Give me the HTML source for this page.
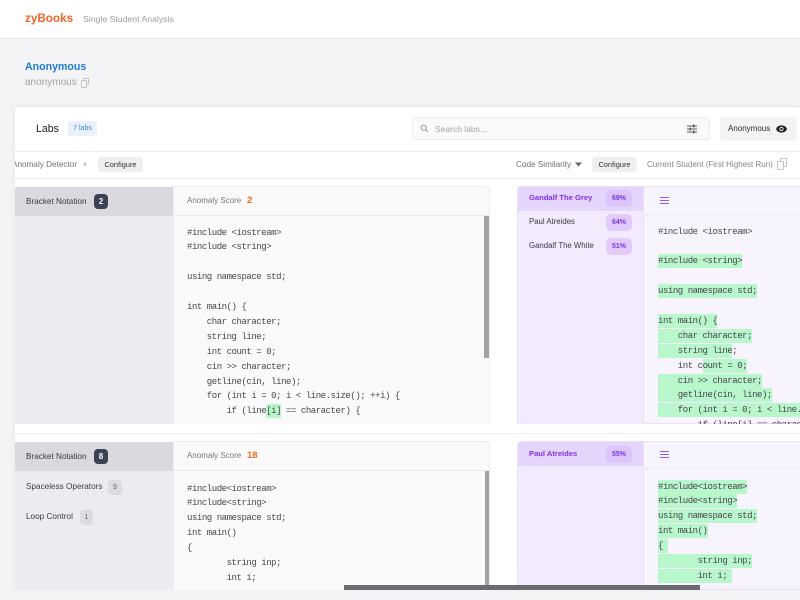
<!DOCTYPE html>
<html><head><meta charset="utf-8">
<style>
*{margin:0;padding:0;box-sizing:border-box}
body{width:800px;height:600px;overflow:hidden;background:#f4f4f6;font-family:"Liberation Sans",Arial,sans-serif;position:relative}
.a{position:absolute;white-space:nowrap}
pre{font-family:"Liberation Mono",monospace;font-size:9px;letter-spacing:-0.45px;line-height:14.9px;color:#45454d;position:absolute;margin:0}
.h{background:#b8f6cb;padding:2px 0}
.t{font-size:8.2px;color:#3a3a42;line-height:12px}
.bd{position:absolute;border-radius:4px;text-align:center;font-weight:bold}
.pb{position:absolute;left:606px;width:26px;height:17px;border-radius:5px;background:#e0cbfb;color:#7a35e6;font-size:7px;font-weight:bold;line-height:17px;text-align:center}
.btn{position:absolute;height:15px;border-radius:3px;background:#efeff1;color:#333;font-size:7.4px;line-height:15px;text-align:center}
</style></head><body>

<!-- header -->
<div class="a" style="left:0;top:0;width:800px;height:39px;background:#fff;border-bottom:1px solid #e6e6ea"></div>
<div class="a" style="left:25px;top:12px;font-size:11.7px;font-weight:bold;color:#f0642a;line-height:14px">zyBooks</div>
<div class="a" style="left:83px;top:13px;font-size:8.7px;color:#9c9ca2;line-height:12px">Single Student Analysis</div>

<!-- student -->
<div class="a" style="left:25px;top:60px;font-size:10.6px;font-weight:bold;color:#1f7ad5;line-height:14px">Anonymous</div>
<div class="a" style="left:25px;top:77px;font-size:10px;color:#a2a2a8;line-height:12px">anonymous</div>
<div class="a" style="left:83px;top:78px;width:6px;height:7px;border:1px solid #c4c4c8;border-radius:1px"></div>
<div class="a" style="left:81px;top:80px;width:6px;height:8px;border:1px solid #c4c4c8;border-radius:1px;background:#f4f4f6"></div>

<!-- panel -->
<div class="a" style="left:15px;top:106px;width:785px;height:484px;background:#fff;border-top:1px solid #e8e8ec;box-shadow:-2px 0 4px rgba(0,0,0,0.03)"></div>
<div class="a" style="left:36px;top:122px;font-size:10.6px;color:#222;line-height:14px">Labs</div>
<div class="a" style="left:68px;top:121px;width:29px;height:15px;background:#e9f1fb;border-radius:3px;color:#3a86d6;font-size:7px;line-height:15px;text-align:center">7 labs</div>

<!-- search -->
<div class="a" style="left:412px;top:117px;width:298px;height:23px;background:#fafafa;border:1px solid #ececee;border-radius:4px"></div>
<svg class="a" style="left:420px;top:124px" width="9" height="9" viewBox="0 0 9 9"><circle cx="3.7" cy="3.7" r="2.6" fill="none" stroke="#9a9aa0" stroke-width="1"/><line x1="5.6" y1="5.6" x2="8" y2="8" stroke="#9a9aa0" stroke-width="1"/></svg>
<div class="a" style="left:435px;top:123px;font-size:8.5px;color:#a4a4aa;line-height:12px">Search labs...</div>
<svg class="a" style="left:687px;top:124px" width="10" height="10" viewBox="0 0 10 10"><g stroke="#555" stroke-width="1"><line x1="0" y1="2" x2="10" y2="2"/><line x1="0" y1="5" x2="10" y2="5"/><line x1="0" y1="8" x2="10" y2="8"/></g><g fill="#555"><rect x="6" y="0.5" width="1.4" height="3"/><rect x="2.5" y="3.5" width="1.4" height="3"/><rect x="6" y="6.5" width="1.4" height="3"/></g></svg>
<div class="a" style="left:720px;top:117px;width:77px;height:24px;background:#f3f3f5;border-radius:4px"></div>
<div class="a" style="left:728px;top:123px;font-size:8px;color:#2a2a30;line-height:12px">Anonymous</div>
<svg class="a" style="left:776px;top:125px" width="11" height="8" viewBox="0 0 11 8"><ellipse cx="5.5" cy="4" rx="5.3" ry="3.6" fill="#222"/><circle cx="5.5" cy="4" r="2.1" fill="#f3f3f5"/><circle cx="5.5" cy="4" r="1.2" fill="#222"/></svg>

<div class="a" style="left:15px;top:151px;width:785px;height:1px;background:#eeeef1"></div>
<div class="a" style="left:15px;top:178px;width:785px;height:1px;background:#eeeef1"></div>

<!-- controls -->
<div class="a" style="left:15px;top:155px;width:300px;height:20px;overflow:hidden">
  <div class="a" style="left:-3px;top:4px;font-size:8.2px;color:#707078;line-height:12px">Anomaly Detector</div>
  <div class="a" style="left:68px;top:4px;font-size:8px;color:#c2c2c6;line-height:12px">▾</div>
</div>
<div class="btn" style="left:98px;top:157px;width:45px">Configure</div>
<div class="a" style="left:516px;top:159px;font-size:8.2px;color:#707078;line-height:12px">Code Similarity</div>
<svg class="a" style="left:575px;top:162px" width="7" height="5" viewBox="0 0 7 5"><path d="M0 0.5 L7 0.5 L3.5 4.5 Z" fill="#666"/></svg>
<div class="btn" style="left:592px;top:157px;width:45px">Configure</div>
<div class="a" style="left:647px;top:159px;font-size:8px;color:#85858c;line-height:12px">Current Student (First Highest Run)</div>
<div class="a" style="left:780px;top:158px;width:7px;height:9px;border:1px solid #c4c4c8;border-radius:1px"></div>
<div class="a" style="left:777px;top:161px;width:7px;height:9px;border:1px solid #c4c4c8;border-radius:1px;background:#fff"></div>

<!-- CARD 1 left -->
<div class="a" style="left:15px;top:187px;width:158px;height:237px;background:#ececf0"></div>
<div class="a" style="left:15px;top:187px;width:158px;height:29px;background:#dadade"></div>
<div class="a t" style="left:26px;top:195.5px">Bracket Notation</div>
<div class="bd" style="left:94px;top:194px;width:14px;height:15px;background:#3b4254;color:#fff;font-size:8px;line-height:15px">2</div>
<div class="a" style="left:173px;top:186px;width:317px;height:238px;background:#fafafb;border:1px solid #ececf0;border-bottom:none;border-radius:0 4px 0 0"></div>
<div class="a" style="left:173px;top:215px;width:316px;height:1px;background:#ececf0"></div>
<div class="a" style="left:187px;top:195px;font-size:8px;color:#76767e;line-height:12px">Anomaly Score</div>
<div class="a" style="left:247px;top:194px;font-size:9.5px;font-weight:bold;color:#f26a1b;line-height:13px">2</div>
<div class="a" style="left:174px;top:216px;width:310px;height:208px;overflow:hidden">
<pre style="left:13px;top:9.5px">#include &lt;iostream&gt;
#include &lt;string&gt;

using namespace std;

int main() {
    char character;
    string line;
    int count = 0;
    cin &gt;&gt; character;
    getline(cin, line);
    for (int i = 0; i &lt; line.size(); ++i) {
        if (line<span class="h">[i]</span> == character) {</pre>
</div>
<div class="a" style="left:484px;top:216px;width:5px;height:142px;background:#a3a3a6"></div>

<!-- CARD 1 right (purple) -->
<div class="a" style="left:517px;top:186px;width:290px;height:238px;background:#f8f4fd;border:1px solid #e9dff9;border-radius:6px 0 0 0"></div>
<div class="a" style="left:518px;top:187px;width:126px;height:237px;background:#f3eafd"></div>
<div class="a" style="left:518px;top:187px;width:126px;height:24px;background:#e5d4fb"></div>
<div class="a" style="left:643px;top:187px;width:1px;height:237px;background:#eae0f8"></div>
<div class="a" style="left:644px;top:214px;width:156px;height:1px;background:#ede5f8"></div>
<div class="a t" style="left:529px;top:192px;color:#7a35e6;font-weight:bold;font-size:7.6px">Gandalf The Grey</div>
<div class="a t" style="left:529px;top:216px;font-size:7.8px">Paul Atreides</div>
<div class="a t" style="left:529px;top:240px;font-size:7.8px">Gandalf The White</div>
<div class="pb" style="top:190px;background:#dcc5fa">69%</div>
<div class="pb" style="top:214px">64%</div>
<div class="pb" style="top:238px">51%</div>
<div class="a" style="left:660px;top:197px;width:9px;height:1.3px;background:#8a5cf0"></div>
<div class="a" style="left:660px;top:200px;width:9px;height:1.3px;background:#8a5cf0"></div>
<div class="a" style="left:660px;top:203px;width:9px;height:1.3px;background:#8a5cf0"></div>
<div class="a" style="left:644px;top:215px;width:156px;height:209px;overflow:hidden">
<pre style="left:14px;top:9.5px">#include &lt;iostream&gt;

<span class="h">#include &lt;string&gt;</span>

<span class="h">using namespace std;</span>

<span class="h">int main() {</span>
<span class="h">    char character;</span>
<span class="h">    string line</span>;
    int c<span class="h">ount = 0;</span>
<span class="h">    cin &gt;&gt; character;</span>
<span class="h">    getline(cin, line);</span>
<span class="h">    for (int i = 0; i &lt; line.size(); ++i) {</span>
        if (line[i] == character) {</pre>
</div>

<!-- separator between cards -->
<div class="a" style="left:15px;top:433px;width:785px;height:1px;background:#f0f0f3"></div>

<!-- CARD 2 left -->
<div class="a" style="left:15px;top:442px;width:158px;height:148px;background:#ececf0"></div>
<div class="a" style="left:15px;top:442px;width:158px;height:29px;background:#dadade"></div>
<div class="a t" style="left:26px;top:450.5px">Bracket Notation</div>
<div class="bd" style="left:94px;top:449px;width:14px;height:15px;background:#3b4254;color:#fff;font-size:8px;line-height:15px">8</div>
<div class="a t" style="left:26px;top:481px">Spaceless Operators</div>
<div class="bd" style="left:108px;top:480px;width:14px;height:15px;background:#dcdce0;color:#666;font-size:7px;line-height:15px;font-weight:normal">9</div>
<div class="a t" style="left:26px;top:511px">Loop Control</div>
<div class="bd" style="left:80px;top:510px;width:13px;height:15px;background:#dcdce0;color:#666;font-size:7px;line-height:15px;font-weight:normal">1</div>
<div class="a" style="left:173px;top:441px;width:317px;height:149px;background:#fafafb;border:1px solid #ececf0;border-bottom:none;border-radius:0 4px 0 0"></div>
<div class="a" style="left:173px;top:470px;width:316px;height:1px;background:#ececf0"></div>
<div class="a" style="left:187px;top:450px;font-size:8px;color:#76767e;line-height:12px">Anomaly Score</div>
<div class="a" style="left:247px;top:449px;font-size:9.5px;font-weight:bold;color:#f26a1b;line-height:13px">18</div>
<div class="a" style="left:174px;top:471px;width:310px;height:114px;overflow:hidden">
<pre style="left:13px;top:10.5px">#include&lt;iostream&gt;
#include&lt;string&gt;
using namespace std;
int main()
{
        string inp;
        int i;</pre>
</div>
<div class="a" style="left:485px;top:471px;width:4px;height:114px;background:#a3a3a6"></div>

<!-- CARD 2 right (purple) -->
<div class="a" style="left:517px;top:441px;width:290px;height:149px;background:#f8f4fd;border:1px solid #e9dff9;border-radius:6px 0 0 0"></div>
<div class="a" style="left:518px;top:442px;width:126px;height:148px;background:#f3eafd"></div>
<div class="a" style="left:518px;top:442px;width:126px;height:24px;background:#e5d4fb"></div>
<div class="a" style="left:643px;top:442px;width:1px;height:148px;background:#eae0f8"></div>
<div class="a" style="left:644px;top:468px;width:156px;height:1px;background:#ede5f8"></div>
<div class="a t" style="left:529px;top:448px;color:#7a35e6;font-weight:bold;font-size:7.6px">Paul Atreides</div>
<div class="pb" style="top:446px;background:#dcc5fa">55%</div>
<div class="a" style="left:660px;top:451px;width:9px;height:1.3px;background:#8a5cf0"></div>
<div class="a" style="left:660px;top:454px;width:9px;height:1.3px;background:#8a5cf0"></div>
<div class="a" style="left:660px;top:457px;width:9px;height:1.3px;background:#8a5cf0"></div>
<div class="a" style="left:644px;top:469px;width:156px;height:116px;overflow:hidden">
<pre style="left:14px;top:10.5px"><span class="h">#include&lt;iostream&gt;</span>
<span class="h">#include&lt;string&gt;</span>
<span class="h">using namespace std;</span>
<span class="h">int main()</span>
<span class="h">{ </span>
<span class="h">        string inp;</span>
<span class="h">        int i; </span></pre>
</div>

<!-- horizontal scrollbar + bottom -->
<div class="a" style="left:344px;top:585px;width:356px;height:5px;background:#6c6c70"></div>
<div class="a" style="left:0;top:590px;width:800px;height:10px;background:#f4f4f6"></div>
</body></html>
